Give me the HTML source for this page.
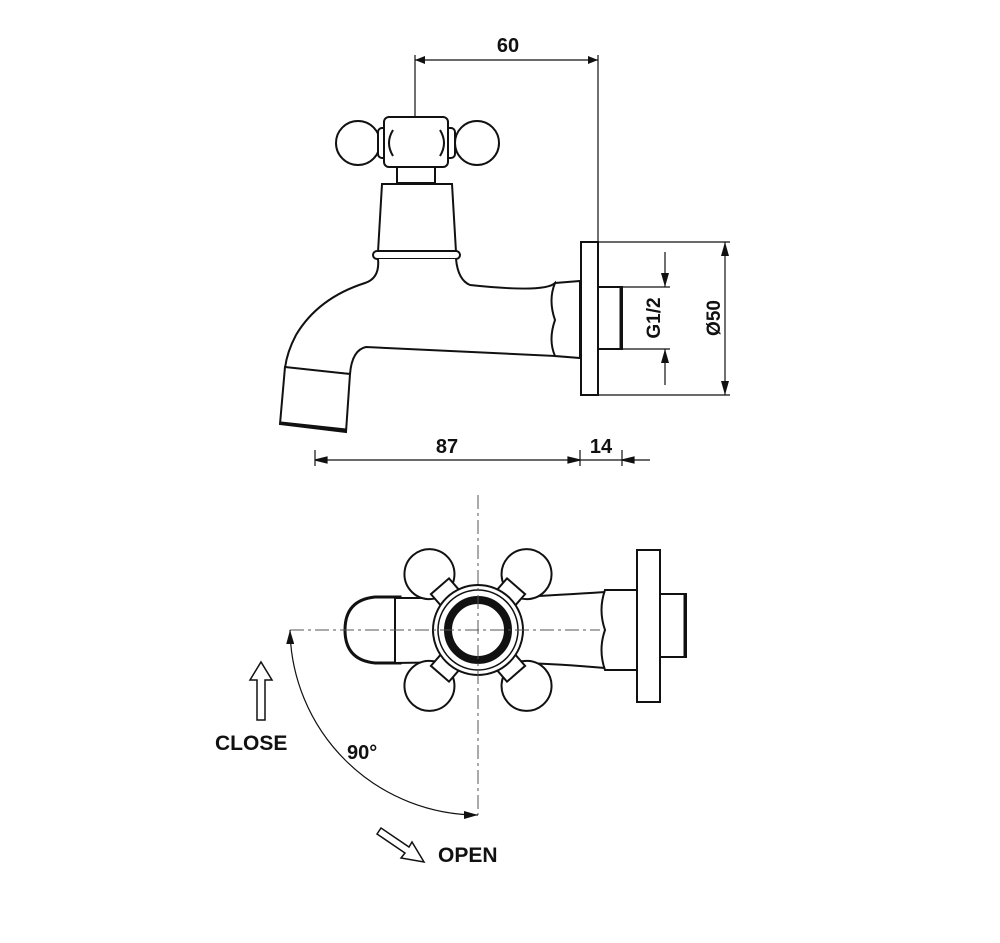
<!DOCTYPE html>
<html><head><style>body{margin:0;background:#fff}svg{display:block}text{font-family:"Liberation Sans",Arial,sans-serif;font-weight:bold;fill:#111}</style></head><body>
<svg width="1000" height="943" viewBox="0 0 1000 943" xmlns="http://www.w3.org/2000/svg">
<defs><marker id="a" markerWidth="10" markerHeight="8" refX="10" refY="4" orient="auto-start-reverse" markerUnits="userSpaceOnUse"><path d="M0,0 L10,4 L0,8z" fill="#111"/></marker>
<marker id="b" markerWidth="14" markerHeight="8" refX="14" refY="4" orient="auto-start-reverse" markerUnits="userSpaceOnUse"><path d="M0,0 L14,4 L0,8z" fill="#111"/></marker></defs>
<g fill="none" stroke="#111" stroke-width="1.2">
<line x1="415" y1="60" x2="598" y2="60" marker-start="url(#a)" marker-end="url(#a)"/>
<line x1="415" y1="55" x2="415" y2="118"/><line x1="598" y1="55" x2="598" y2="243"/>
</g>
<text x="508" y="52" font-size="20" text-anchor="middle">60</text>
<g fill="#fff" stroke="#111" stroke-width="2">
<circle cx="358" cy="143" r="22"/><circle cx="477" cy="143" r="22"/>
<rect x="378" y="128" width="12" height="30" rx="4"/><rect x="443" y="128" width="12" height="30" rx="4"/>
<rect x="384" y="117" width="64" height="50" rx="5"/>
<path d="M393 130 q-8 13 0 26 M440 130 q8 13 0 26" />
<rect x="397" y="167" width="38" height="16"/>
<path d="M382 184 L452 184 L456 252 L378 252Z"/>
<rect x="373" y="251" width="87" height="8" rx="4"/>
<path d="M378 259 Q380 278 365 283 Q318 298 296 335 Q287 352 285 368 L350 374 Q352 350 366 347 L555 356 L555 283 Q545 293 470 285 Q458 280 456 259"/>
<path d="M285 367 L350 374 L346 432 L280 424Z"/>
<path d="M281 423 L346 430" stroke-width="3"/>
<path d="M555 283 L580 281 L580 358 L555 356 Q548 340 555 320 Q548 300 555 283"/>
<rect x="581" y="242" width="17" height="153"/>
<rect x="598" y="287" width="24" height="62"/>
</g>
<line x1="621" y1="287" x2="621" y2="349" stroke="#111" stroke-width="3"/>
<g fill="none" stroke="#111" stroke-width="1.2">
<line x1="622" y1="287" x2="670" y2="287"/><line x1="622" y1="349" x2="670" y2="349"/>
<line x1="665" y1="252" x2="665" y2="287" marker-end="url(#b)"/><line x1="665" y1="385" x2="665" y2="349" marker-end="url(#b)"/>
<line x1="598" y1="242" x2="730" y2="242"/><line x1="598" y1="395" x2="730" y2="395"/>
<line x1="725" y1="318" x2="725" y2="242" marker-end="url(#b)"/><line x1="725" y1="318" x2="725" y2="395" marker-end="url(#b)"/>
<line x1="315" y1="460" x2="650" y2="460"/>
<line x1="315" y1="450" x2="315" y2="466"/><line x1="580" y1="450" x2="580" y2="466"/><line x1="622" y1="450" x2="622" y2="466"/>
<path d="M315 460 l12 -3 v6z M580 460 l-12 -3 v6z M622 460 l12 -3 v6z" fill="#111"/>
</g>
<text transform="translate(660,318) rotate(-90)" font-size="19" text-anchor="middle">G1/2</text>
<text transform="translate(720,318) rotate(-90)" font-size="19" text-anchor="middle">Ø50</text>
<text x="447" y="453" font-size="20" text-anchor="middle">87</text>
<text x="601" y="453" font-size="20" text-anchor="middle">14</text>
<g fill="#fff" stroke="#111" stroke-width="2">
<path d="M375 597 Q345 600 345 630 Q345 660 375 663 L400 663 L400 597Z" stroke-width="3"/>
<path d="M395 598 L460 598 L460 662 L395 663Z M500 598 Q560 595 605 592 Q612 610 605 630 Q612 650 605 668 Q560 664 500 662Z"/>
</g>
<g fill="#fff" stroke="#111" stroke-width="2">
<g transform="translate(478,630) rotate(-131)"><circle cx="74" cy="0" r="25"/><path d="M40 -12 L58 -12 L58 12 L40 12Z"/></g>
<g transform="translate(478,630) rotate(-49)"><circle cx="74" cy="0" r="25"/><path d="M40 -12 L58 -12 L58 12 L40 12Z"/></g>
<g transform="translate(478,630) rotate(131)"><circle cx="74" cy="0" r="25"/><path d="M40 -12 L58 -12 L58 12 L40 12Z"/></g>
<g transform="translate(478,630) rotate(49)"><circle cx="74" cy="0" r="25"/><path d="M40 -12 L58 -12 L58 12 L40 12Z"/></g>
<circle cx="478" cy="630" r="45"/><circle cx="478" cy="630" r="40" stroke-width="1.5"/>
<circle cx="478" cy="630" r="30" stroke-width="8"/>
<path d="M605 590 L637 590 L637 670 L605 670 Q598 650 605 630 Q598 610 605 590Z"/>
<rect x="637" y="550" width="23" height="152"/>
<rect x="660" y="594" width="26" height="63"/>
</g>
<line x1="685" y1="594" x2="685" y2="657" stroke="#111" stroke-width="3"/>
<g fill="none" stroke="#555" stroke-width="1" stroke-dasharray="14,4,3,4">
<line x1="290" y1="630" x2="600" y2="630"/><line x1="478" y1="495" x2="478" y2="815"/>
</g>
<g fill="none" stroke="#111" stroke-width="1.2">
<path d="M290 630 A188 188 0 0 0 478 815" marker-start="url(#b)" marker-end="url(#b)"/>
<path d="M257 720 L257 680 L250 680 L261 662 L272 680 L265 680 L265 720Z" stroke-width="1.5"/>
<path d="M377 834 L405 853 L401 858 L424 862 L412 842 L409 847 L381 828Z" stroke-width="1.5"/>
</g>
<text x="215" y="750" font-size="21">CLOSE</text>
<text x="347" y="759" font-size="20">90°</text>
<text x="438" y="862" font-size="21">OPEN</text>
</svg>
</body></html>
